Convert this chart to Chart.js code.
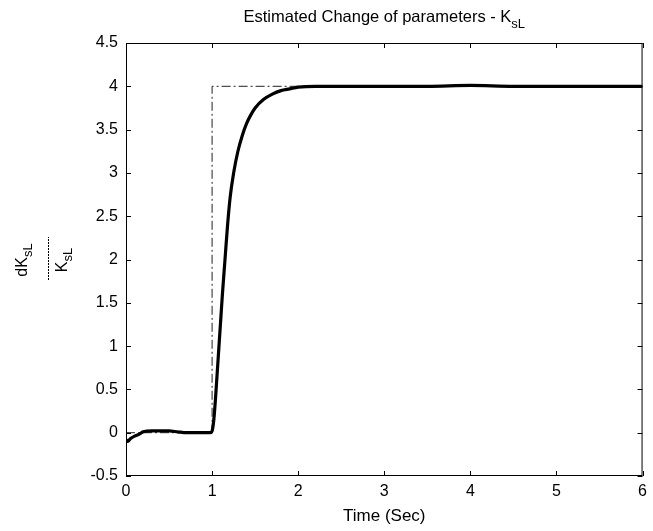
<!DOCTYPE html>
<html>
<head>
<meta charset="utf-8">
<script src="https://cdn.jsdelivr.net/npm/chart.js@4"></script>
<style>
  html,body{margin:0;padding:0;background:#fff;}
  #wrap{width:653px;height:531px;}
</style>
</head>
<body>
<div id="wrap"><canvas id="c" width="653" height="531"></canvas></div>
<script>
// estimated dK/K curve
const time=[0,0.02,0.05,0.1,0.15,0.2,0.3,0.4,0.5,0.6,0.7,0.8,0.9,0.98,1.0,1.02,1.04,1.06,1.08,1.1,1.12,1.15,1.18,1.21,1.25,1.3,1.35,1.4,1.45,1.5,1.6,1.7,1.8,1.9,2.0,2.2,2.5,3,3.5,4,4.5,5,5.5,6];
const estimate=[-0.08,-0.1,-0.07,-0.04,-0.02,0.01,0.02,0.02,0.02,0.01,0.0,0.0,0.0,0.0,0.02,0.15,0.4,0.7,1.0,1.3,1.6,2.0,2.4,2.72,3.0,3.25,3.43,3.57,3.67,3.75,3.85,3.91,3.95,3.97,3.99,4.0,4.0,4.0,4.0,4.01,4.0,4.0,4.0,4.0];
// actual step change
const refTime=[0,1,1,6];
const refValue=[0,0,4,4];
const xTicks=[0,1,2,3,4,5,6];
const yTicks=[-0.5,0,0.5,1,1.5,2,2.5,3,3.5,4,4.5];

const FONT='"Liberation Sans", Arial, sans-serif';

const axesBox={
  id:'axesBox',
  afterDraw(chart){
    const {ctx,chartArea:a,scales:{x,y}}=chart;
    ctx.save();
    ctx.strokeStyle='#000';
    ctx.lineWidth=1;
    ctx.strokeRect(a.left+0.5,a.top+0.5,a.right-a.left-1,a.bottom-a.top-1);
    ctx.beginPath();
    xTicks.forEach(v=>{
      const px=Math.round(x.getPixelForValue(v))+0.5;
      ctx.moveTo(px,a.bottom);ctx.lineTo(px,a.bottom-5);
      ctx.moveTo(px,a.top);ctx.lineTo(px,a.top+5);
    });
    yTicks.forEach(v=>{
      const py=Math.round(y.getPixelForValue(v))+0.5;
      ctx.moveTo(a.left,py);ctx.lineTo(a.left+5,py);
      ctx.moveTo(a.right,py);ctx.lineTo(a.right-5,py);
    });
    ctx.stroke();

    // title with subscript
    ctx.fillStyle='#000';
    ctx.textBaseline='alphabetic';
    const main='Estimated Change of parameters - K';
    const sub='sL';
    ctx.font='16.5px '+FONT;
    const w1=ctx.measureText(main).width;
    ctx.font='13px '+FONT;
    const w2=ctx.measureText(sub).width;
    const cx=(a.left+a.right)/2;
    let sx=cx-(w1+w2)/2;
    ctx.font='16.5px '+FONT;
    ctx.textAlign='left';
    ctx.fillText(main,sx,22);
    ctx.font='13px '+FONT;
    ctx.fillText(sub,sx+w1,28);

    // y label: dK_sL / K_sL rotated
    ctx.translate(0,260);
    ctx.rotate(-Math.PI/2);
    const drawSub=(base,s,ypos)=>{
      ctx.font='16px '+FONT;
      const b=ctx.measureText(base).width;
      ctx.font='13px '+FONT;
      const ss=ctx.measureText(s).width;
      const st=-(b+ss)/2;
      ctx.font='16px '+FONT;
      ctx.fillText(base,st,ypos);
      ctx.font='13px '+FONT;
      ctx.fillText(s,st+b,ypos+5);
    };
    drawSub('dK','sL',27);
    drawSub('K','sL',67);
    ctx.strokeStyle='#000';
    ctx.setLineDash([2,1]);
    ctx.beginPath();
    ctx.moveTo(-20,48.5);ctx.lineTo(23,48.5);
    ctx.stroke();
    ctx.restore();
  }
};

new Chart(document.getElementById('c'),{
  type:'line',
  data:{
    datasets:[
      {
        label:'reference',
        data:refTime.map((t,i)=>({x:t,y:refValue[i]})),
        borderColor:'#222',
        borderWidth:1,
        borderDash:[9,3,2,3],
        pointRadius:0,
        tension:0,
        order:2
      },
      {
        label:'estimate',
        data:time.map((t,i)=>({x:t,y:estimate[i]})),
        borderColor:'#000',
        borderWidth:3.2,
        pointRadius:0,
        cubicInterpolationMode:'monotone',
        order:1
      }
    ]
  },
  options:{
    responsive:false,
    animation:false,
    layout:{padding:{top:43,right:9,left:0,bottom:0}},
    plugins:{legend:{display:false},tooltip:{enabled:false}},
    scales:{
      x:{
        type:'linear',min:0,max:6,
        afterBuildTicks(s){s.ticks=xTicks.map(v=>({value:v}));},
        afterFit(s){s.height=55;},
        grid:{display:false,drawTicks:false},
        border:{display:false},
        ticks:{color:'#000',font:{family:FONT,size:16},padding:6,callback:v=>String(v)},
        title:{display:true,text:'Time (Sec)',color:'#000',font:{family:FONT,size:17},padding:{top:2}}
      },
      y:{
        min:-0.5,max:4.5,
        afterBuildTicks(s){s.ticks=yTicks.map(v=>({value:v}));},
        afterFit(s){s.width=126;},
        grid:{display:false,drawTicks:false},
        border:{display:false},
        ticks:{color:'#000',font:{family:FONT,size:16},padding:8,callback:v=>String(v)}
      }
    }
  },
  plugins:[axesBox]
});
</script>
</body>
</html>
